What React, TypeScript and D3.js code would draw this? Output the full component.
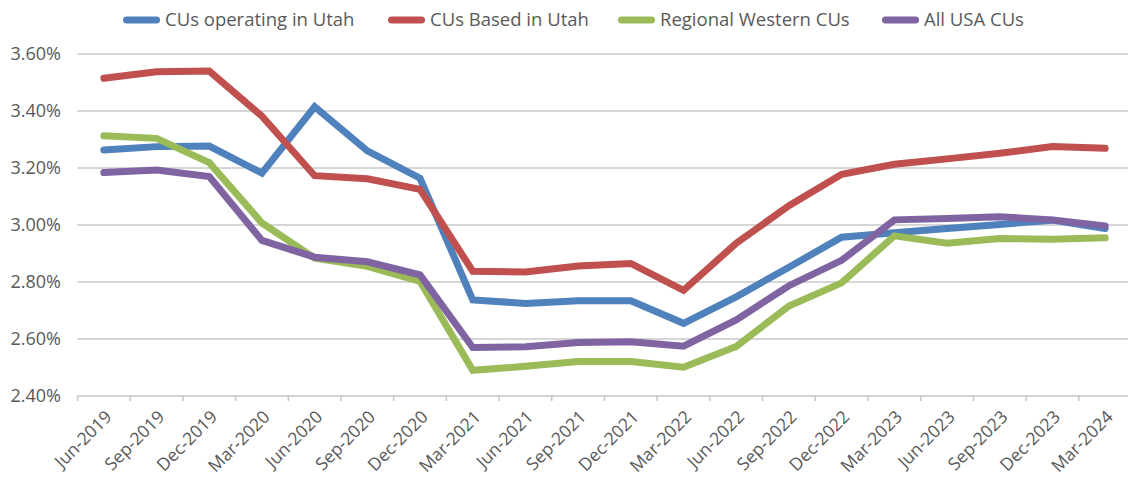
import React from "react";
import * as d3 from "d3";

const categories = ["Jun-2019","Sep-2019","Dec-2019","Mar-2020","Jun-2020","Sep-2020","Dec-2020","Mar-2021","Jun-2021","Sep-2021","Dec-2021","Mar-2022","Jun-2022","Sep-2022","Dec-2022","Mar-2023","Jun-2023","Sep-2023","Dec-2023","Mar-2024"];

const operatingUtah = [3.263,3.275,3.277,3.182,3.415,3.26,3.164,2.737,2.725,2.734,2.734,2.655,2.748,2.852,2.957,2.973,2.988,3.002,3.017,2.988];
const basedUtah = [3.515,3.538,3.540,3.382,3.173,3.162,3.125,2.838,2.835,2.856,2.865,2.771,2.936,3.068,3.178,3.213,3.232,3.252,3.275,3.269];
const regionalWestern = [3.313,3.304,3.219,3.007,2.884,2.855,2.802,2.490,2.504,2.521,2.521,2.501,2.574,2.716,2.797,2.962,2.936,2.953,2.950,2.955];
const allUSA = [3.184,3.193,3.170,2.946,2.887,2.871,2.825,2.570,2.573,2.588,2.590,2.575,2.667,2.787,2.876,3.018,3.023,3.029,3.018,2.997];

const yTicks = [2.4,2.6,2.8,3.0,3.2,3.4,3.6];

const series = [
  { name: "CUs operating in Utah", values: operatingUtah, color: "#4f81bd" },
  { name: "CUs Based in Utah", values: basedUtah, color: "#c0504d" },
  { name: "Regional Western CUs", values: regionalWestern, color: "#9bbb59" },
  { name: "All USA CUs", values: allUSA, color: "#8064a2" },
];

const legendX = [123, 388, 618, 882];

export default function App() {
  const W = 1128, H = 479;
  const left = 77.5, right = 1131.5, top = 54, bottom = 396;
  const x = d3.scaleBand<string>().domain(categories).range([left, right]).padding(0);
  const y = d3.scaleLinear().domain([2.4, 3.6]).range([bottom, top]);
  const cx = (c: string) => (x(c) as number) + x.bandwidth() / 2;
  const line = d3.line<number>().x((_, i) => cx(categories[i])).y((v) => y(v));
  const font = "'Open Sans', 'Noto Sans', sans-serif";
  const textColor = "#595959";
  const boundaries = d3.range(categories.length + 1).map((i) => left + i * x.bandwidth());

  return (
    <svg width={W} height={H} style={{ position: "absolute", left: 0, top: 0, background: "#fff" }} fontFamily={font}>
      {yTicks.map((t) => (
        <g key={t}>
          {t > 2.4 && <line x1={left} x2={W} y1={y(t)} y2={y(t)} stroke="#c9c9c9" strokeWidth={1.5} />}
          <text x={61} y={y(t)} dy="0.35em" textAnchor="end" fontSize={18} fill={textColor}>
            {t.toFixed(2) + "%"}
          </text>
        </g>
      ))}
      <line x1={left} x2={W} y1={bottom} y2={bottom} stroke="#c4c4c4" strokeWidth={1.5} />
      {boundaries.map((b, i) => (
        <line key={i} x1={b} x2={b} y1={bottom} y2={bottom + 5} stroke="#c4c4c4" strokeWidth={1.5} />
      ))}
      {categories.map((c) => (
        <text key={c} transform={`translate(${cx(c) + 9},${bottom + 22}) rotate(-45)`} textAnchor="end" fontSize={17.5} fill={textColor}>
          {c}
        </text>
      ))}
      {series.map((s) => (
        <path key={s.name} d={line(s.values) || ""} fill="none" stroke={s.color} strokeWidth={7} strokeLinejoin="miter" strokeLinecap="round" />
      ))}
      {series.map((s, i) => (
        <g key={s.name} transform={`translate(${legendX[i]},20)`}>
          <line x1={3.5} x2={33.5} y1={0} y2={0} stroke={s.color} strokeWidth={7} strokeLinecap="round" />
          <text x={42} y={0} dy="0.35em" fontSize={18.5} fill={textColor}>{s.name}</text>
        </g>
      ))}
    </svg>
  );
}
